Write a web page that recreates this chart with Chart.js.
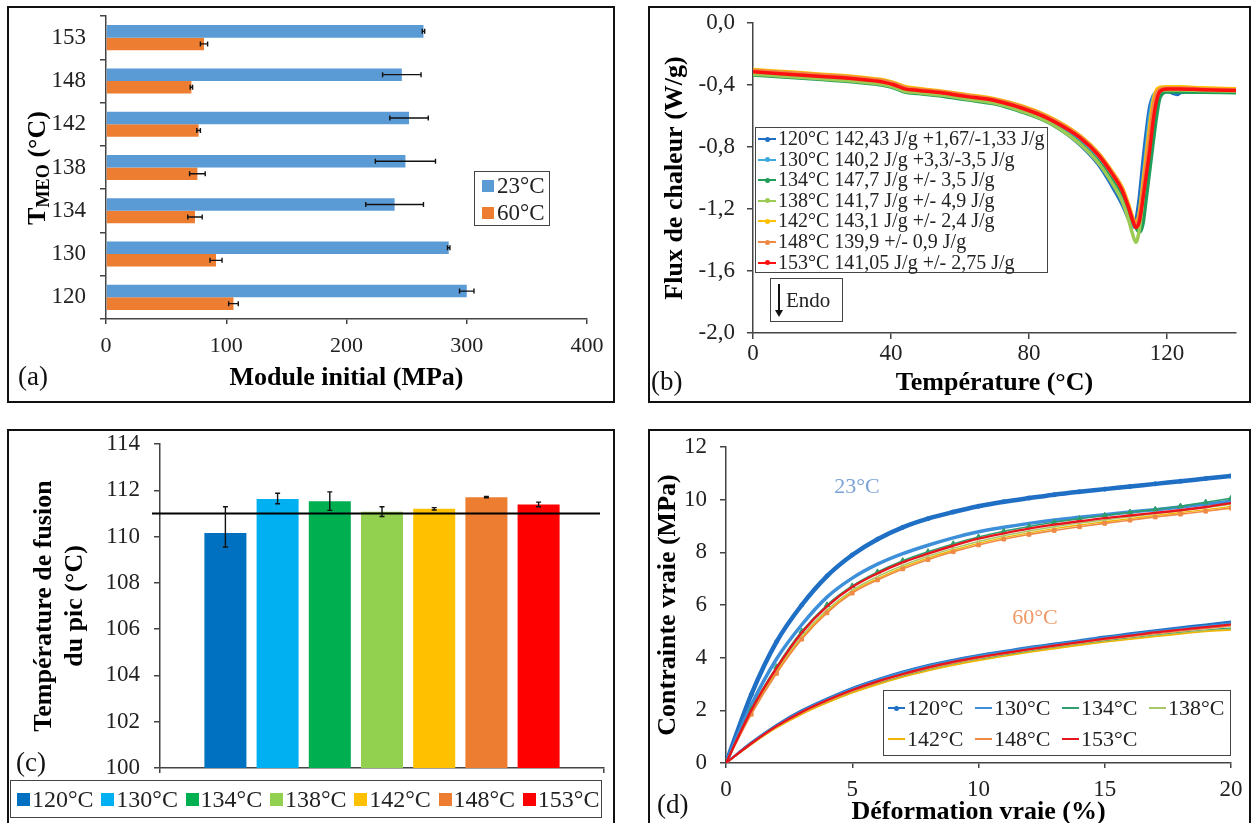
<!DOCTYPE html>
<html><head><meta charset="utf-8">
<script src="https://cdn.jsdelivr.net/npm/chart.js@4.4.1/dist/chart.umd.min.js"></script>
<style>
html,body{margin:0;padding:0;width:1254px;height:823px;overflow:hidden;background:#fff;font-family:'Liberation Serif','Times New Roman',serif;color:#111;}
.box{position:absolute;border:2px solid #111;box-sizing:border-box;pointer-events:none;}
canvas{position:absolute;}
</style></head><body>
<canvas id="ca" width="604" height="393" style="left:9px;top:8px"></canvas>
<canvas id="cb" width="599" height="392" style="left:650px;top:8px"></canvas>
<canvas id="cc" width="604" height="400" style="left:9px;top:431px"></canvas>
<canvas id="cd" width="599" height="400" style="left:650px;top:431px"></canvas>
<div class="box" style="left:7px;top:6px;width:608px;height:397px"></div>
<div class="box" style="left:648px;top:6px;width:603px;height:397px"></div>
<div class="box" style="left:7px;top:429px;width:608px;height:410px"></div>
<div class="box" style="left:648px;top:429px;width:603px;height:410px"></div>
<div id="overlay"></div>
<script>
// ---------- DATA ----------
// (a) initial modulus
const tmeoA = ['120','130','134','138','142','148','153'];
const modA23 = [300, 285, 240, 249, 252, 246, 264];
const errA23 = [6, 1, 24, 25, 16, 16, 1];
const modA60 = [106, 91.5, 74, 76, 77, 71, 81.5];
const errA60 = [4, 5, 6, 6.5, 1.5, 1, 3];
const seriesA = ['23°C', '60°C'];

// (b) DSC curves
const tempB = [0,10,20,30,38,41,44,48,55,62,70,78,85,90,95,100,104,107,109,110,111,112,113,114,115,116,117,118,120,122,123,124,130,140];
const flux120 = [-0.325,-0.340,-0.355,-0.372,-0.393,-0.410,-0.435,-0.445,-0.462,-0.485,-0.512,-0.565,-0.630,-0.700,-0.790,-0.910,-1.050,-1.170,-1.270,-1.300,-1.270,-1.120,-0.900,-0.700,-0.540,-0.470,-0.445,-0.440,-0.440,-0.455,-0.462,-0.448,-0.442,-0.445];
const flux130 = [-0.320,-0.335,-0.350,-0.367,-0.388,-0.405,-0.430,-0.440,-0.457,-0.480,-0.506,-0.558,-0.620,-0.685,-0.770,-0.885,-1.020,-1.140,-1.250,-1.310,-1.320,-1.220,-1.020,-0.800,-0.600,-0.480,-0.440,-0.432,-0.430,-0.432,-0.432,-0.432,-0.435,-0.440];
const flux134 = [-0.335,-0.350,-0.365,-0.382,-0.403,-0.420,-0.445,-0.455,-0.472,-0.496,-0.522,-0.575,-0.635,-0.700,-0.780,-0.890,-1.010,-1.120,-1.220,-1.280,-1.320,-1.350,-1.300,-1.130,-0.950,-0.770,-0.600,-0.480,-0.445,-0.445,-0.445,-0.445,-0.447,-0.450];
const flux138 = [-0.330,-0.345,-0.360,-0.377,-0.398,-0.415,-0.440,-0.450,-0.467,-0.490,-0.517,-0.570,-0.632,-0.700,-0.785,-0.900,-1.030,-1.150,-1.280,-1.360,-1.415,-1.330,-1.140,-0.940,-0.760,-0.600,-0.480,-0.440,-0.432,-0.432,-0.432,-0.432,-0.436,-0.440];
const flux142 = [-0.300,-0.315,-0.330,-0.347,-0.368,-0.385,-0.410,-0.422,-0.440,-0.462,-0.488,-0.535,-0.595,-0.655,-0.730,-0.835,-0.955,-1.060,-1.180,-1.250,-1.290,-1.220,-1.040,-0.850,-0.660,-0.500,-0.430,-0.415,-0.412,-0.412,-0.412,-0.412,-0.418,-0.425];
const flux148 = [-0.305,-0.320,-0.335,-0.352,-0.373,-0.390,-0.415,-0.427,-0.444,-0.466,-0.492,-0.540,-0.600,-0.660,-0.735,-0.840,-0.960,-1.070,-1.190,-1.260,-1.300,-1.240,-1.080,-0.900,-0.720,-0.540,-0.450,-0.425,-0.420,-0.420,-0.420,-0.420,-0.425,-0.430];
const flux153 = [-0.315,-0.330,-0.345,-0.362,-0.383,-0.400,-0.425,-0.435,-0.452,-0.475,-0.500,-0.550,-0.610,-0.670,-0.745,-0.850,-0.970,-1.080,-1.200,-1.270,-1.320,-1.280,-1.140,-0.980,-0.820,-0.630,-0.500,-0.440,-0.425,-0.425,-0.425,-0.425,-0.430,-0.435];
const legendB = ['120°C 142,43 J/g +1,67/-1,33 J/g','130°C 140,2 J/g +3,3/-3,5 J/g','134°C 147,7 J/g +/- 3,5 J/g','138°C 141,7 J/g +/- 4,9 J/g','142°C 143,1 J/g +/- 2,4 J/g','148°C 139,9 +/- 0,9 J/g','153°C 141,05 J/g +/- 2,75 J/g'];

// (c) peak melting temperature
const tmeoLabels = ['120°C','130°C','134°C','138°C','142°C','148°C','153°C'];
const tPeak = [110.15, 111.62, 111.53, 111.07, 111.2, 111.7, 111.39];
const tPeakErrUp = [1.14, 0.25, 0.4, 0.22, 0.05, 0.03, 0.1];
const tPeakErrDown = [0.6, 0.2, 0.4, 0.2, 0.05, 0.03, 0.1];
const tPeakRef = 111;

// (d) true stress / strain
const strainD = [0,1,2,3,4,5,6,7,8,9,10,11,12,13,14,15,16,17,18,19,20];
const s23_120 = [0,2.6,4.6,6.0,7.1,7.9,8.5,8.95,9.28,9.53,9.75,9.92,10.06,10.19,10.3,10.4,10.5,10.6,10.7,10.8,10.9];
const s23_130 = [0,2.2,3.95,5.25,6.3,7.02,7.55,7.95,8.27,8.55,8.78,8.95,9.1,9.23,9.33,9.43,9.53,9.62,9.72,9.83,9.94];
const s23_134 = [0,2.05,3.65,5.0,6.0,6.72,7.25,7.68,8.02,8.32,8.58,8.8,8.98,9.14,9.28,9.4,9.52,9.63,9.75,9.9,10.05];
const s23_138 = [0,1.92,3.52,4.82,5.82,6.56,7.08,7.5,7.85,8.15,8.41,8.63,8.81,8.97,9.11,9.23,9.35,9.47,9.58,9.7,9.82];
const s23_142 = [0,1.88,3.45,4.75,5.75,6.5,7.0,7.43,7.78,8.08,8.34,8.56,8.74,8.9,9.04,9.16,9.28,9.4,9.51,9.62,9.74];
const s23_148 = [0,1.85,3.4,4.7,5.7,6.45,6.95,7.37,7.72,8.02,8.28,8.5,8.68,8.83,8.97,9.1,9.22,9.34,9.45,9.56,9.68];
const s23_153 = [0,2.0,3.6,4.95,5.95,6.68,7.2,7.62,7.95,8.25,8.52,8.72,8.9,9.05,9.18,9.3,9.4,9.5,9.6,9.72,9.87];
const s60_120 = [0,0.78,1.45,2.0,2.45,2.85,3.18,3.47,3.72,3.92,4.1,4.25,4.4,4.53,4.66,4.8,4.92,5.04,5.15,5.26,5.37];
const s60_130 = [0,0.76,1.42,1.97,2.42,2.82,3.15,3.44,3.69,3.89,4.07,4.22,4.37,4.5,4.63,4.76,4.88,5.0,5.1,5.2,5.3];
const s60_134 = [0,0.73,1.36,1.88,2.31,2.69,3.01,3.29,3.54,3.75,3.93,4.09,4.24,4.38,4.51,4.63,4.74,4.85,4.95,5.04,5.12];
const s60_138 = [0,0.71,1.34,1.86,2.29,2.67,2.99,3.27,3.52,3.73,3.91,4.07,4.22,4.36,4.49,4.61,4.72,4.83,4.93,5.02,5.08];
const s60_142 = [0,0.7,1.33,1.85,2.28,2.66,2.98,3.26,3.5,3.71,3.89,4.05,4.2,4.34,4.47,4.59,4.7,4.8,4.9,4.99,5.05];
const s60_148 = [0,0.72,1.37,1.9,2.34,2.73,3.06,3.34,3.59,3.8,3.98,4.14,4.29,4.43,4.56,4.68,4.8,4.91,5.01,5.11,5.2];
const s60_153 = [0,0.74,1.4,1.94,2.38,2.77,3.1,3.38,3.63,3.84,4.02,4.17,4.32,4.46,4.59,4.72,4.84,4.96,5.06,5.16,5.26];
const annotD = [{text:'23°C', x:5.19, y:10.46}, {text:'60°C', x:12.24, y:5.51}];

// ---------- STYLE ----------
const SERIF = "'Liberation Serif', 'Times New Roman', serif";
Chart.defaults.font.family = SERIF;
Chart.defaults.color = '#222';
const AX = '#444';
const colA = ['#5B9BD5', '#ED7D31'];
const colB = ['#1F6FC5', '#3FA9E0', '#1E9E58', '#9CCB55', '#FFC000', '#EE8A45', '#FF1010'];
const colC = ['#0070C0', '#00B0F0', '#00B050', '#92D050', '#FFC000', '#ED7D31', '#FF0000'];
const colD = ['#1F6FC5', '#3D8FD9', '#2E9E6E', '#A9C66A', '#F0B400', '#EE8A45', '#E8141E'];
const annotColD = ['#7BA3D8', '#EE9A66'];
const tickFont = sz => ({family: SERIF, size: sz, weight: 'normal'});
const titleFont = {family: SERIF, size: 26, weight: 'bold'};

function axisStyle(extra) {
  return Object.assign({
    grid: {drawOnChartArea: false, tickLength: 6, color: AX, lineWidth: 1.5},
    border: {color: AX, width: 1.5}
  }, extra);
}
// fixed scale thickness, no extra label-overflow padding
const fixX = h => s => { s.height = h; s.paddingLeft = 0; s.paddingRight = 0; };
const fixY = w => s => { s.width = w; s.paddingTop = 0; s.paddingBottom = 0; };

const errorBars = {
  id: 'errorBars',
  afterDatasetsDraw(chart) {
    const ctx = chart.ctx;
    const horiz = chart.options.indexAxis === 'y';
    const vs = horiz ? chart.scales.x : chart.scales.y;
    chart.data.datasets.forEach((ds, di) => {
      if (!ds.errUp) return;
      const meta = chart.getDatasetMeta(di);
      meta.data.forEach((el, i) => {
        const v = ds.data[i];
        const p1 = vs.getPixelForValue(v + ds.errUp[i]);
        const p0 = vs.getPixelForValue(v - ds.errDown[i]);
        ctx.save();
        ctx.strokeStyle = '#111'; ctx.lineWidth = 1.4;
        ctx.beginPath();
        if (horiz) {
          const y = el.y;
          ctx.moveTo(p0, y); ctx.lineTo(p1, y);
          ctx.moveTo(p0, y - 2.5); ctx.lineTo(p0, y + 2.5);
          ctx.moveTo(p1, y - 2.5); ctx.lineTo(p1, y + 2.5);
        } else {
          const x = el.x;
          ctx.moveTo(x, p0); ctx.lineTo(x, p1);
          ctx.moveTo(x - 2.5, p0); ctx.lineTo(x + 2.5, p0);
          ctx.moveTo(x - 2.5, p1); ctx.lineTo(x + 2.5, p1);
        }
        ctx.stroke();
        ctx.restore();
      });
    });
  }
};

// ---------- (a) ----------
new Chart(document.getElementById('ca'), {
  type: 'bar',
  data: {
    labels: tmeoA,
    datasets: [
      {label: seriesA[0], data: modA23, errUp: errA23, errDown: errA23, backgroundColor: colA[0], categoryPercentage: 0.58, barPercentage: 1},
      {label: seriesA[1], data: modA60, errUp: errA60, errDown: errA60, backgroundColor: colA[1], categoryPercentage: 0.58, barPercentage: 1}
    ]
  },
  options: {
    indexAxis: 'y', responsive: false, animation: false, devicePixelRatio: 1,
    layout: {padding: {top: 8, right: 26, left: 0, bottom: 0}},
    plugins: {legend: {display: false}, tooltip: {enabled: false}},
    scales: {
      x: axisStyle({min: 0, max: 400,
        ticks: {stepSize: 100, font: tickFont(22), padding: 9},
        grid: {drawOnChartArea: false, tickLength: 5, color: AX, lineWidth: 1.5},
        title: {display: true, text: 'Module initial (MPa)', color: '#000', font: titleFont, padding: {top: 0, bottom: 7}},
        afterFit: fixX(82)}),
      y: axisStyle({reverse: true,
        ticks: {font: tickFont(23), padding: 14},
        afterFit: fixY(97)})
    }
  },
  plugins: [errorBars]
});

// ---------- (b) ----------
const fluxB = [flux120, flux130, flux134, flux138, flux142, flux148, flux153];
new Chart(document.getElementById('cb'), {
  type: 'line',
  data: {
    datasets: fluxB.map((arr, i) => ({
      label: legendB[i],
      data: tempB.map((t, k) => ({x: t, y: arr[k]})),
      borderColor: colB[i], borderWidth: 3.5, pointRadius: 0,
      cubicInterpolationMode: 'monotone', fill: false, order: 7 - i
    }))
  },
  options: {
    responsive: false, animation: false, devicePixelRatio: 1,
    layout: {padding: {top: 15, right: 13, left: 0, bottom: 0}},
    plugins: {legend: {display: false}, tooltip: {enabled: false}},
    scales: {
      x: axisStyle({type: 'linear', min: 0, max: 140,
        ticks: {stepSize: 40, includeBounds: false, font: tickFont(23), padding: 1},
        title: {display: true, text: 'Température (°C)', color: '#000', font: titleFont, padding: {top: 0, bottom: 1.4}},
        afterFit: fixX(67)}),
      y: axisStyle({min: -2, max: 0,
        ticks: {stepSize: 0.4, font: tickFont(23), padding: 12,
          callback: v => (Math.abs(v) < 1e-9 ? 0 : v).toFixed(1).replace('.', ',')},
        title: {display: true, text: 'Flux de chaleur (W/g)', color: '#000', font: titleFont, padding: {top: 9.4, bottom: 0}},
        afterFit: fixY(103)})
    }
  }
});

// ---------- (c) ----------
const refLine = {
  id: 'refLine',
  afterDatasetsDraw(chart) {
    const ctx = chart.ctx, a = chart.chartArea;
    const y = chart.scales.y.getPixelForValue(tPeakRef);
    ctx.save(); ctx.strokeStyle = '#000'; ctx.lineWidth = 2;
    ctx.beginPath(); ctx.moveTo(a.left - 8, y); ctx.lineTo(a.right - 4, y); ctx.stroke();
    ctx.restore();
  }
};
new Chart(document.getElementById('cc'), {
  type: 'bar',
  data: {
    labels: [''],
    datasets: tmeoLabels.map((l, i) => ({
      label: l, data: [tPeak[i]], errUp: [tPeakErrUp[i]], errDown: [tPeakErrDown[i]],
      backgroundColor: colC[i], categoryPercentage: 0.823, barPercentage: 0.805
    }))
  },
  options: {
    responsive: false, animation: false, devicePixelRatio: 1,
    layout: {padding: {top: 13, right: 9, left: 0, bottom: 0}},
    plugins: {legend: {display: false}, tooltip: {enabled: false}},
    scales: {
      x: axisStyle({ticks: {callback: () => ''},
        grid: {drawOnChartArea: false, tickLength: 5, color: AX, lineWidth: 1.5},
        afterFit: fixX(63)}),
      y: axisStyle({min: 100, max: 114,
        ticks: {stepSize: 2, font: tickFont(23), padding: 14},
        title: {display: true, text: ['Température de fusion', 'du pic (°C)'], color: '#000', font: titleFont, padding: {top: 19.4, bottom: 0}},
        afterFit: fixY(151)})
    }
  },
  plugins: [refLine, errorBars]
});

// ---------- (d) ----------
const s23 = [s23_120, s23_130, s23_134, s23_138, s23_142, s23_148, s23_153];
const s60 = [s60_120, s60_130, s60_134, s60_138, s60_142, s60_148, s60_153];
const widthD = [4.5, 3.5, 1.6, 1.4, 1.4, 1.6, 2.4];
const ptStyleD = ['circle', 'line', 'triangle', 'crossRot', 'line', 'rect', 'line'];
const ptRadD = [2, 0, 3.2, 2, 0, 2.6, 0];
const dsD = [];
[s23, s60].forEach((grp, g) => grp.forEach((arr, i) => dsD.push({
  label: tmeoLabels[i] + (g ? ' 60' : ' 23'),
  data: strainD.map((x, k) => ({x: x, y: arr[k]})),
  borderColor: colD[i], backgroundColor: colD[i], borderWidth: g ? Math.min(widthD[i], 2.2) : widthD[i],
  pointRadius: g ? 0 : ptRadD[i], pointStyle: ptStyleD[i], pointBorderWidth: 1,
  cubicInterpolationMode: 'monotone', fill: false, order: 7 - i
})));
const annot = {
  id: 'annot',
  afterDatasetsDraw(chart) {
    const ctx = chart.ctx;
    annotD.forEach((a, i) => {
      ctx.save();
      ctx.font = '22px ' + SERIF; ctx.fillStyle = annotColD[i];
      ctx.textAlign = 'center'; ctx.textBaseline = 'middle';
      ctx.fillText(a.text, chart.scales.x.getPixelForValue(a.x), chart.scales.y.getPixelForValue(a.y));
      ctx.restore();
    });
  }
};
new Chart(document.getElementById('cd'), {
  type: 'line',
  data: {datasets: dsD},
  options: {
    responsive: false, animation: false, devicePixelRatio: 1,
    layout: {padding: {top: 16, right: 18, left: 0, bottom: 0}},
    plugins: {legend: {display: false}, tooltip: {enabled: false}},
    scales: {
      x: axisStyle({type: 'linear', min: 0, max: 20,
        ticks: {stepSize: 5, font: tickFont(23), padding: 8},
        grid: {drawOnChartArea: false, tickLength: 5, color: AX, lineWidth: 1.5},
        title: {display: true, text: 'Déformation vraie (%)', color: '#000', font: titleFont, padding: {top: 0, bottom: 3.4}},
        afterFit: fixX(68)}),
      y: axisStyle({min: 0, max: 12,
        ticks: {stepSize: 2, font: tickFont(23), padding: 13},
        title: {display: true, text: 'Contrainte vraie (MPa)', color: '#000', font: titleFont, padding: {top: 2.4, bottom: 0}},
        afterFit: fixY(76)})
    }
  },
  plugins: [annot]
});

// ---------- HTML overlays (legends, labels) ----------
const ov = document.getElementById('overlay');
function el(tag, css, html) {
  const e = document.createElement(tag);
  e.style.cssText = css; if (html !== undefined) e.innerHTML = html;
  ov.appendChild(e); return e;
}
[['(a)', 18, 363], ['(b)', 651, 368], ['(c)', 16, 749], ['(d)', 657, 791]].forEach(p =>
  el('div', `position:absolute;left:${p[1]}px;top:${p[2]}px;font-size:27px;line-height:1;color:#111;white-space:nowrap`, p[0]));
el('div', 'position:absolute;left:38px;top:168px;transform:translate(-50%,-50%) rotate(-90deg);font-size:26px;font-weight:bold;white-space:nowrap;color:#000;line-height:1',
  'T<sub style="font-size:70%;vertical-align:-0.25em">MEO</sub> (°C)');
(function () {
  const b = el('div', 'position:absolute;left:474px;top:171px;width:76px;height:55px;border:1.5px solid #444;box-sizing:border-box;background:#fff');
  seriesA.forEach((s, i) => {
    const r = document.createElement('div');
    r.style.cssText = `position:absolute;left:0;top:${1 + i * 26.5}px;height:26px;width:74px;`;
    r.innerHTML = `<span style="position:absolute;left:7px;top:7px;width:12px;height:12px;background:${colA[i]}"></span>` +
      `<span style="position:absolute;left:22px;top:0;font-size:23px;line-height:26px;color:#222;white-space:nowrap">${s}</span>`;
    b.appendChild(r);
  });
})();
(function () {
  const b = el('div', 'position:absolute;left:755px;top:127px;width:293px;height:146px;border:1.5px solid #444;box-sizing:border-box;background:#fff');
  legendB.forEach((s, i) => {
    const r = document.createElement('div');
    r.style.cssText = `position:absolute;left:0;top:${i * 20.6}px;height:20.6px;width:290px;`;
    r.innerHTML = `<span style="position:absolute;left:2px;top:10px;width:18px;height:2px;background:${colB[i]}"></span>` +
      `<span style="position:absolute;left:9px;top:8.5px;width:5px;height:5px;border-radius:50%;background:${colB[i]}"></span>` +
      `<span style="position:absolute;left:22px;top:0;font-size:20px;line-height:21px;color:#222;white-space:nowrap">${s}</span>`;
    b.appendChild(r);
  });
  const e = el('div', 'position:absolute;left:770px;top:278px;width:73px;height:44px;border:1.5px solid #444;box-sizing:border-box;background:#fff');
  e.innerHTML = '<span style="position:absolute;left:7px;top:5px;width:1.5px;height:28px;background:#111"></span>' +
    '<span style="position:absolute;left:4px;top:31px;width:0;height:0;border-left:4px solid transparent;border-right:4px solid transparent;border-top:7px solid #111"></span>' +
    '<span style="position:absolute;left:15px;top:9px;font-size:21px;line-height:24px;color:#222">Endo</span>';
})();
(function () {
  const b = el('div', 'position:absolute;left:10px;top:780px;width:592px;height:38px;border:1.5px solid #444;box-sizing:border-box;background:#fff');
  tmeoLabels.forEach((s, i) => {
    const x = 6 + i * 84.3;
    const r = document.createElement('div');
    r.style.cssText = `position:absolute;left:${x}px;top:0;height:36px;width:84px;`;
    r.innerHTML = `<span style="position:absolute;left:0;top:11.5px;width:13px;height:13px;background:${colC[i]}"></span>` +
      `<span style="position:absolute;left:15px;top:3px;font-size:24px;line-height:30px;color:#222;white-space:nowrap">${s}</span>`;
    b.appendChild(r);
  });
})();
(function () {
  const b = el('div', 'position:absolute;left:883px;top:690px;width:348px;height:66px;border:1.5px solid #444;box-sizing:border-box;background:#fff');
  tmeoLabels.forEach((s, i) => {
    const col = i % 4, row = Math.floor(i / 4);
    const r = document.createElement('div');
    r.style.cssText = `position:absolute;left:${4 + col * 87}px;top:${2 + row * 31}px;height:30px;width:86px;`;
    let mk = '';
    if (i === 0) mk = `<span style="position:absolute;left:6px;top:12.5px;width:5px;height:5px;border-radius:50%;background:${colD[i]}"></span>`;
    r.innerHTML = `<span style="position:absolute;left:0;top:14px;width:17px;height:2px;background:${colD[i]}"></span>` + mk +
      `<span style="position:absolute;left:19px;top:0;font-size:22px;line-height:30px;color:#222;white-space:nowrap">${s}</span>`;
    b.appendChild(r);
  });
})();
</script>
</body></html>
